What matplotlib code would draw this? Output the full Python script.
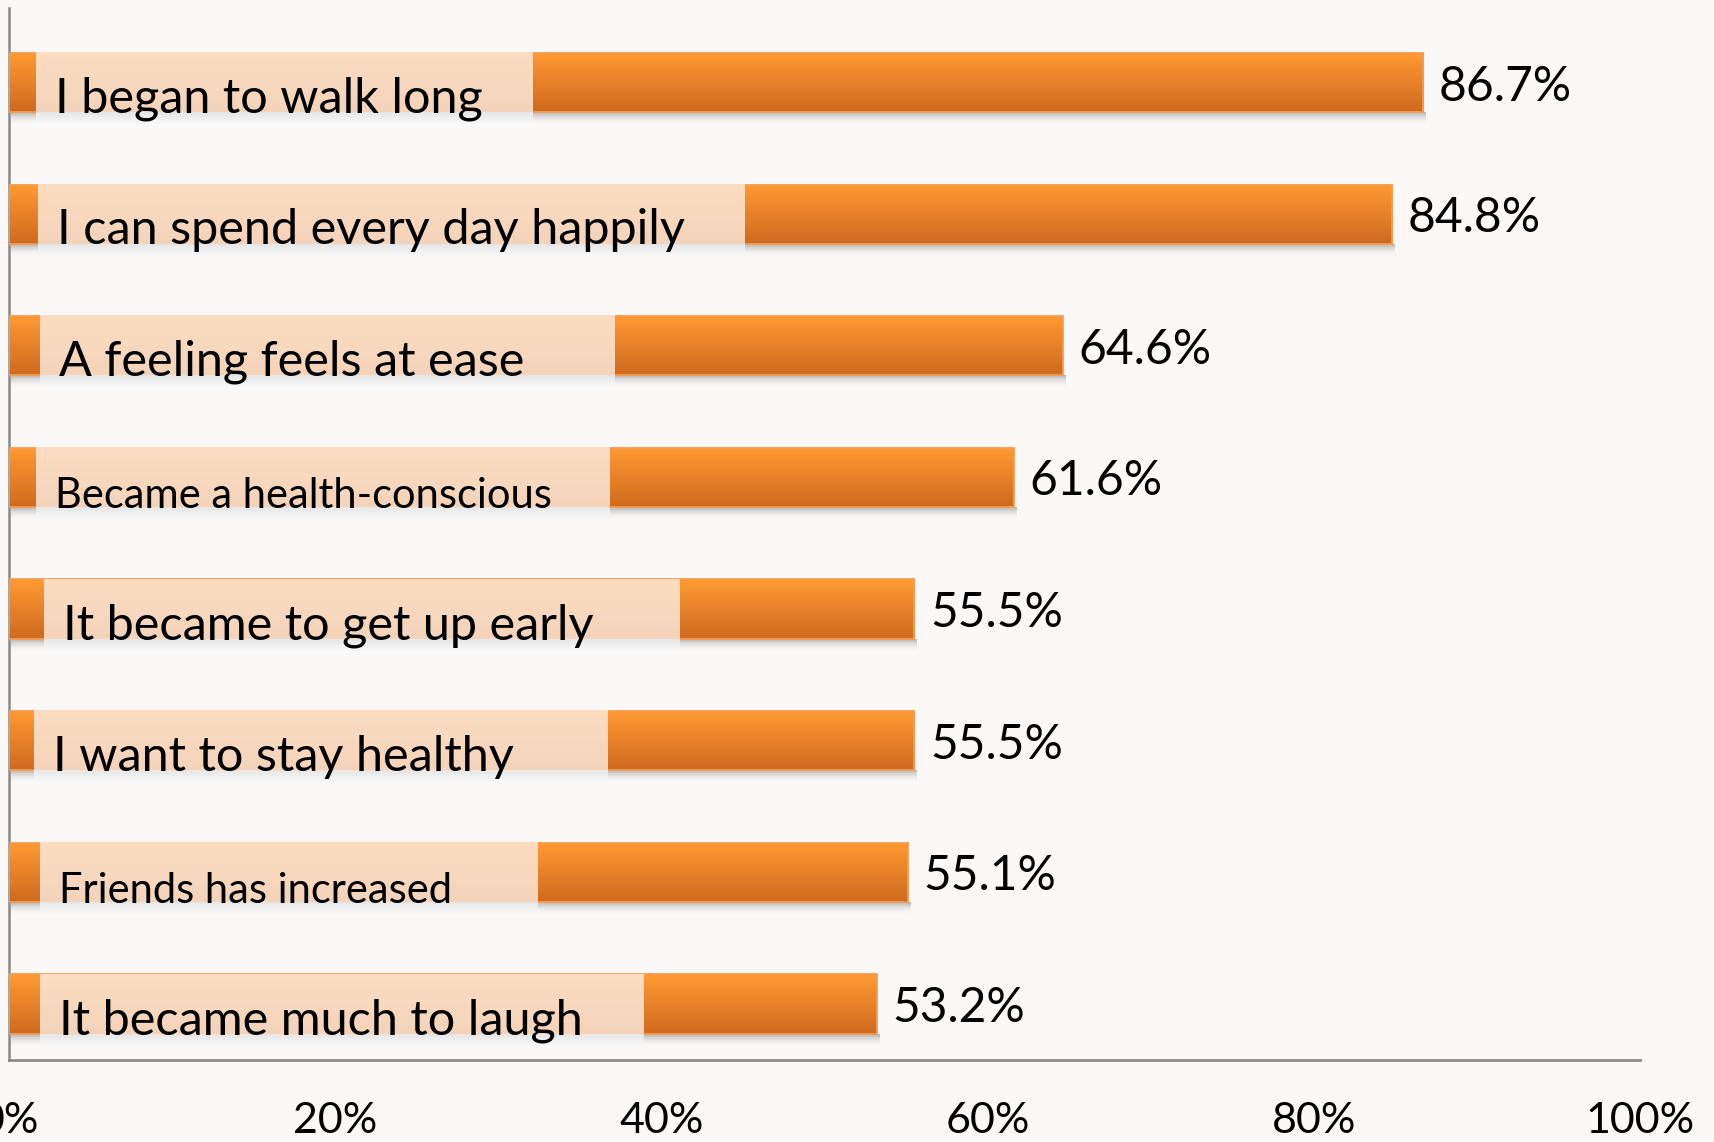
import numpy as np
import matplotlib
matplotlib.use("Agg")
import matplotlib.pyplot as plt
from matplotlib.colors import to_rgb

# ---------------- data ----------------
categories = [
    "I began to walk long",
    "I can spend every day happily",
    "A feeling feels at ease",
    "Became a health-conscious",
    "It became to get up early",
    "I want to stay healthy",
    "Friends has increased",
    "It became much to laugh",
]
values = [86.7, 84.8, 64.6, 61.6, 55.5, 55.5, 55.1, 53.2]
value_labels = ["86.7%", "84.8%", "64.6%", "61.6%", "55.5%", "55.5%", "55.1%", "53.2%"]
tick_values = [0, 20, 40, 60, 80, 100]
tick_labels = ["0%", "20%", "40%", "60%", "80%", "100%"]

# ---------------- layout / style ----------------
condensed_label = [False, False, False, True, False, False, True, False]
box_left = [1.66, 1.78, 1.90, 1.66, 2.15, 1.53, 1.90, 1.90]      # label box extents (x axis units)
box_right = [32.1, 45.1, 37.1, 36.8, 41.1, 36.7, 32.4, 38.9]

W, H = 1714, 1142
BG = "#FAF9F7"
fig = plt.figure(figsize=(W / 100, H / 100), dpi=100)
fig.patch.set_facecolor(BG)

ax_left, ax_right, ax_bottom, ax_top = 9, 1640, 1060, 8
ax = fig.add_axes([ax_left / W, (H - ax_bottom) / H,
                   (ax_right - ax_left) / W, (ax_bottom - ax_top) / H])
ax.set_facecolor(BG)

n = len(categories)
ypos = np.arange(n)
ylim = (n - 1 + 0.425, -0.566)
px_y = (ylim[0] - ylim[1]) / (ax_bottom - ax_top)   # data units per pixel (y)
px_x = 100.0 / (ax_right - ax_left)                  # data units per pixel (x)
bar_h = 0.45
FONT = ["Lato", "DejaVu Sans"]


def vgrad(c_top, c_bot, alpha_top=1.0, alpha_bot=1.0, nrows=64):
    t = np.linspace(0, 1, nrows)[:, None]
    c1 = np.array(to_rgb(c_top)); c2 = np.array(to_rgb(c_bot))
    rgb = c1[None, :] * (1 - t) + c2[None, :] * t
    a = alpha_top * (1 - t) + alpha_bot * t
    return np.concatenate([rgb, a], axis=1).reshape(nrows, 1, 4)


# shadows under bars
for y, v in zip(ypos, values):
    top = y + bar_h / 2
    ax.imshow(vgrad("#7a7a7a", BG, 0.55, 0.0),
              extent=(0.15, v + 3 * px_x, top + 13 * px_y, top),
              aspect="auto", interpolation="bilinear", zorder=2)

# bars
bars = ax.barh(ypos, values, height=bar_h, color="#F08A2C", zorder=3, linewidth=0)
orange = vgrad("#FF9A33", "#CF6A1F")
for b in bars:
    x0, y0 = b.get_x(), b.get_y()
    w, h = b.get_width(), b.get_height()
    im = ax.imshow(orange, extent=(x0, x0 + w, y0 + h, y0), aspect="auto",
                   interpolation="bilinear", zorder=3.1)
    im.set_clip_path(b)
ax.barh(ypos, values, height=bar_h, facecolor="none", edgecolor="#F79B4E",
        linewidth=1.3, zorder=3.2)

# label boxes
for y, bl, br in zip(ypos, box_left, box_right):
    top = y - bar_h / 2
    bot = y + bar_h / 2
    ax.imshow(vgrad("#FDDDC1", "#F3D4BB"), extent=(bl, br, bot, top),
              aspect="auto", interpolation="bilinear", zorder=4)
    ax.imshow(vgrad("#E6E6E6", "#FAFAFA"), extent=(bl, br, bot + 13 * px_y, bot),
              aspect="auto", interpolation="bilinear", zorder=4)

# category labels
for y, cat, bl, cond in zip(ypos, categories, box_left, condensed_label):
    ax.text(bl + 19 * px_x, y + bar_h / 2 + 0.5 * px_y, cat, ha="left", va="baseline",
            fontsize=30 if cond else 35, family=FONT, color="black", zorder=5)

# value labels
for y, v, lab in zip(ypos, values, value_labels):
    ax.text(v + 16 * px_x, y + 18 * px_y, lab, ha="left", va="baseline",
            fontsize=34.5, family=FONT, color="black", zorder=5)

# x tick labels
xt = ax.get_xaxis_transform()
for t, lab in zip(tick_values, tick_labels):
    ax.text(t, -73 / (ax_bottom - ax_top), lab, transform=xt, ha="center", va="baseline",
            fontsize=31, family=FONT, color="black", clip_on=False)

ax.set_xlim(0, 100)
ax.set_ylim(*ylim)
ax.set_xticks([])
ax.set_yticks([])
for s in ["top", "right"]:
    ax.spines[s].set_visible(False)
ax.spines["left"].set_color("#8A8A8A")
ax.spines["left"].set_linewidth(1.8)
ax.spines["bottom"].set_color("#8A8A8A")
ax.spines["bottom"].set_linewidth(2.0)

fig.savefig("out.png", dpi=100, facecolor=BG)
